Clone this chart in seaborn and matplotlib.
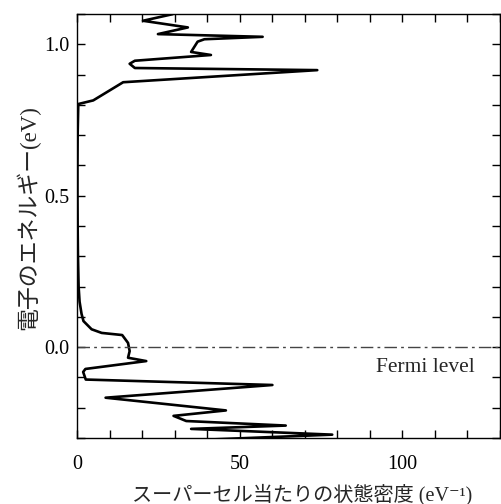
import matplotlib
matplotlib.use('Agg')
import matplotlib.pyplot as plt
from matplotlib.ticker import MultipleLocator
import seaborn as sns
import pandas as pd

# DOS trace (energy in eV, DOS per supercell in eV^-1)
energy = [1.100, 1.078, 1.056, 1.034, 1.025, 1.017, 1.009, 0.975, 0.965, 0.946,
          0.936, 0.922, 0.915, 0.875, 0.815, 0.803, 0.70, 0.60, 0.50, 0.40,
          0.30, 0.20, 0.15, 0.11, 0.086, 0.059, 0.047, 0.040, 0.014, -0.013,
          -0.035, -0.046, -0.072, -0.082, -0.107, -0.125, -0.167, -0.209, -0.227, -0.244,
          -0.259, -0.270, -0.289, -0.305]
dos = [29.4, 20.2, 34.0, 24.8, 57.0, 39.1, 37.0, 35.0, 41.1, 17.7,
       16.1, 17.7, 73.8, 14.1, 4.9, 0.3, 0.1, 0.05, 0.05, 0.1,
       0.2, 0.4, 0.7, 1.3, 1.9, 4.4, 7.5, 13.8, 15.6, 16.1,
       15.6, 21.2, 2.5, 1.8, 2.6, 60.0, 8.7, 45.7, 29.6, 33.5,
       64.1, 35.0, 78.4, 41.0]

fermi_energy = 0.0
x_ticks = [0, 50, 100]
y_ticks = [0.0, 0.5, 1.0]

df = pd.DataFrame({'dos': dos, 'energy': energy})

sns.set_style('ticks')
plt.rcParams['font.family'] = ['Liberation Serif', 'DejaVu Serif', 'Noto Sans CJK JP']
plt.rcParams['axes.linewidth'] = 1.0

fig = plt.figure(figsize=(5.02, 5.04), dpi=100)
ax = fig.add_axes([0.154, 0.131, 0.842, 0.841])

sns.lineplot(data=df, x='dos', y='energy', sort=False, estimator=None,
             color='black', linewidth=1.9, ax=ax)
ax.axhline(fermi_energy, color='#444444', linewidth=1.0, linestyle='-.', dashes=(9, 3, 2, 3))
ax.text(122.3, -0.035, 'Fermi level', ha='right', va='top', fontsize=15.5,
        family=['Liberation Serif'])

ax.set_xlim(0, 130)
ax.set_ylim(-0.3, 1.1)
ax.set_xticks(x_ticks)
ax.set_yticks(y_ticks)
ax.xaxis.set_minor_locator(MultipleLocator(10))
ax.yaxis.set_minor_locator(MultipleLocator(0.1))
ax.set_xticklabels([str(t) for t in x_ticks])
ax.set_yticklabels([f'{t:.1f}' for t in y_ticks])
ax.tick_params(which='both', direction='in', top=True, right=True,
               length=6, width=1, color='black', labelsize=14.5, labelcolor='black')
ax.tick_params(axis='x', pad=12)
ax.tick_params(axis='y', pad=6)
for s in ax.spines.values():
    s.set_color('black')

ax.set_xlabel('スーパーセル当たりの状態密度 (eV⁻¹)', fontsize=14.5,
              family=['Liberation Serif', 'DejaVu Serif', 'Noto Sans CJK JP'])
ax.set_ylabel('電子のエネルギー(eV)', fontsize=16.5,
              family=['Liberation Serif', 'DejaVu Serif', 'Noto Sans CJK JP'])
ax.xaxis.set_label_coords(0.531, -0.108)
ax.yaxis.set_label_coords(-0.088, 0.519)

fig.savefig('out.png', dpi=100)
